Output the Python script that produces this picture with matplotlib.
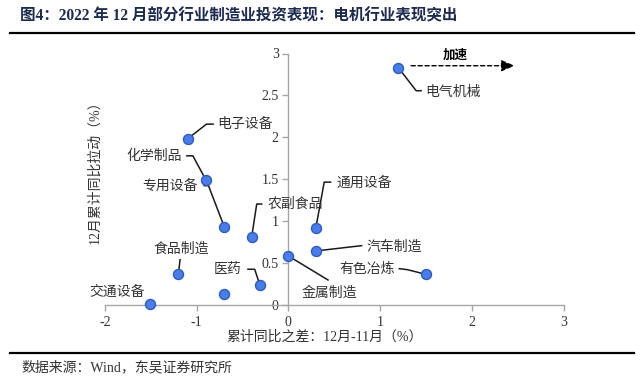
import matplotlib
matplotlib.use('Agg')
import matplotlib.pyplot as plt
import numpy as np

# ---------------- data ----------------
industries = ['电气机械', '电子设备', '化学制品', '专用设备', '农副食品', '通用设备',
              '汽车制造', '金属制造', '有色冶炼', '食品制造', '医药', '', '交通设备']
x_diff = [1.20, -1.10, -0.90, -0.70, -0.40, 0.30, 0.30, 0.00, 1.50, -1.20, -0.31, -0.70, -1.51]
y_contrib = [2.83, 1.98, 1.49, 0.93, 0.81, 0.92, 0.64, 0.58, 0.36, 0.36, 0.23, 0.125, 0.01]
x_ticks = [-2, -1, 0, 1, 2, 3]
y_ticks = [0, 0.5, 1, 1.5, 2, 2.5, 3]
y_ticklabels = ['0', '0.5', '1', '1.5', '2', '2.5', '3']

title = '图4：2022 年 12 月部分行业制造业投资表现：电机行业表现突出'
source = '数据来源：Wind，东吴证券研究所'
xlabel = '累计同比之差：12月-11月（%）'
ylabel = '12月累计同比拉动（%）'
arrow_text = '加速'

# label layout (pixel offsets from point, image y downward)
# text offset, ha, leader polyline offsets
layout = {
    '电气机械': ((27, 24), 'left', [(17.7, 23), (22.7, 23)]),
    '电子设备': ((30, -15), 'left', [(19, -14.7), (25.6, -14.7)]),
    '化学制品': ((-23.5, -23.5), 'right', [(-13, -24), (-19, -24)]),
    '专用设备': ((-26.5, -41), 'right', [(-15.7, -41), (-20, -41)]),
    '农副食品': ((16, -32.7), 'left', [(5, -32.7), (10, -32.7)]),
    '通用设备': ((20.5, -44.5), 'left', [(8.3, -45.4), (14.7, -45.4)]),
    '汽车制造': ((51, -4.5), 'left', [(45.7, -5.3)]),
    '金属制造': ((40.5, 36.5), 'center', [(39.6, 24)]),
    '有色冶炼': ((-31.5, -5), 'right', [(-18.4, -4.7), (-26.7, -5.7)]),
    '食品制造': ((2.5, -25.4), 'center', [(1.7, -14.7)]),
    '医药': ((-18.5, -16), 'right', [(-5.3, -16), (-12, -16)]),
    '交通设备': ((-32.5, -12.3), 'center', []),
}

W, H = 640, 382
fig = plt.figure(figsize=(W / 100, H / 100), dpi=100)
fig.patch.set_facecolor('white')

def fx(px):
    return px / W

def fy(py):
    return 1 - py / H

serif_cjk = ['Liberation Serif', 'Noto Sans CJK SC']
cjk = ['Noto Sans CJK SC', 'Liberation Serif']
txt_color = '#333333'

# axes: x -2 at px 105, 3 at px 563.5 ; y 0 at py 304.5, 3 at py 53.5
ax = fig.add_axes([fx(105), fy(304.5), fx(563.5) - fx(105), fy(53.5) - fy(304.5)])
ax.set_xlim(-2, 3)
ax.set_ylim(0, 3)
ax.set_facecolor('none')

for s in ['top', 'right']:
    ax.spines[s].set_visible(False)
ax.spines['left'].set_position(('data', 0))
ax.spines['bottom'].set_position(('data', 0))
for s in ['left', 'bottom']:
    ax.spines[s].set_color('#a6a6a6')
    ax.spines[s].set_linewidth(1.0)

ax.set_xticks(x_ticks)
ax.set_xticklabels([str(t) for t in x_ticks])
ax.set_yticks(y_ticks)
ax.set_yticklabels(y_ticklabels)
ax.tick_params(axis='both', direction='out', length=4, width=1.0, color='#a6a6a6',
               labelsize=10, labelcolor=txt_color)
ax.tick_params(axis='x', pad=4)
ax.tick_params(axis='y', pad=3)
for lab in ax.get_xticklabels() + ax.get_yticklabels():
    lab.set_fontfamily('Liberation Serif')

# points
ax.scatter(x_diff, y_contrib, s=52, facecolor='#4a7de6', edgecolor='#2b5bc6',
           linewidth=1.0, zorder=5, clip_on=False)

# labels and leader lines
fig.canvas.draw()
inv = ax.transData.inverted()
for name, xv, yv in zip(industries, x_diff, y_contrib):
    if name not in layout:
        continue
    (tdx, tdy), ha, leader = layout[name]
    ax.annotate(name, xy=(xv, yv), xytext=(tdx, -tdy), textcoords='offset pixels',
                ha=ha, va='center', fontsize=10, family=cjk, color=txt_color, zorder=6)
    if leader:
        base = ax.transData.transform((xv, yv))
        pts = [base] + [base + np.array([dx, -dy]) for dx, dy in leader]
        dpts = inv.transform(np.array(pts))
        ax.plot(dpts[:, 0], dpts[:, 1], color='#1a1a1a', lw=1.1, zorder=4, clip_on=False)

# accelerate arrow anchored on the 电气机械 point
ex, ey = x_diff[0], y_contrib[0]
base = ax.transData.transform((ex, ey))
a0 = inv.transform(base + np.array([12.7, 2]))
a1 = inv.transform(base + np.array([116, 2]))
ax.annotate('', xy=a1, xytext=a0,
            arrowprops=dict(arrowstyle='-|>,head_length=0.8,head_width=0.35', color='black',
                            lw=1.0, linestyle=(0, (3, 2)), shrinkA=0, shrinkB=0),
            annotation_clip=False)
ax.annotate(arrow_text, xy=(ex, ey), xytext=(56.7, 12), textcoords='offset pixels',
            ha='center', va='center', fontsize=9, fontweight='bold', family=cjk,
            color='black', annotation_clip=False)

# axis titles
fig.text(fx(325), fy(337), xlabel, ha='center', va='center', fontsize=10,
         family=serif_cjk, color=txt_color)
fig.text(fx(95), fy(169), ylabel, ha='center', va='center', rotation=90, fontsize=10,
         family=serif_cjk, color=txt_color)

# title, rules, source
fig.text(fx(20), fy(16), title, ha='left', va='center', fontsize=11.2, fontweight='bold',
         family=serif_cjk, color='#1c2a50')
fig.add_artist(plt.Line2D([fx(10), fx(634)], [fy(33), fy(33)], color='black', lw=1.6,
                          transform=fig.transFigure))
fig.add_artist(plt.Line2D([fx(10), fx(634)], [fy(352.5), fy(352.5)], color='black', lw=1.6,
                          transform=fig.transFigure))
fig.text(fx(21), fy(367), source, ha='left', va='center', fontsize=10,
         family=serif_cjk, color=txt_color)

fig.savefig('out.png', dpi=100)
